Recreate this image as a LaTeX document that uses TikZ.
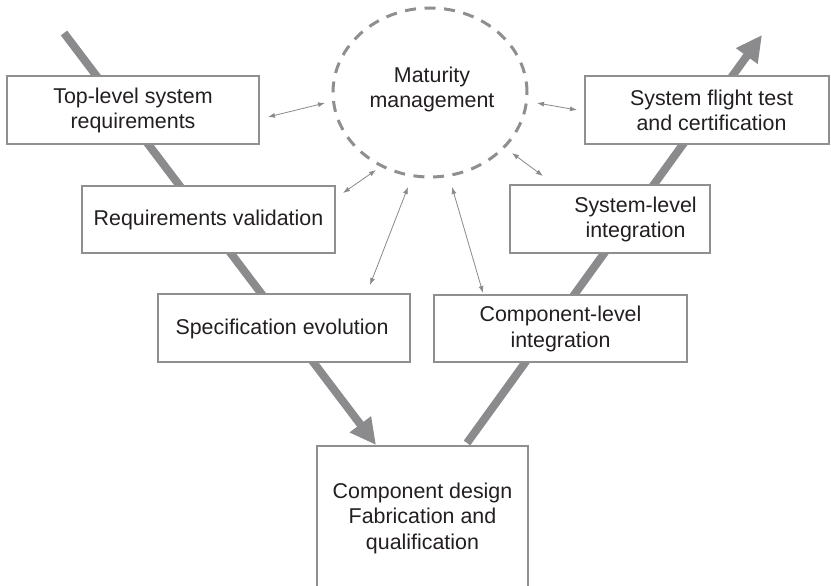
\documentclass[tikz,border=0pt]{standalone}
\usepackage{fontspec}
\setmainfont{Liberation Sans}
\usetikzlibrary{arrows.meta,shapes.geometric}
\definecolor{flowgray}{HTML}{8B8B8D}
\definecolor{boxgray}{HTML}{8F8F8F}
\definecolor{linkgray}{HTML}{8A8A8A}
\definecolor{inkdark}{HTML}{231F20}
\tikzset{
  stagebox/.style={draw=boxgray, line width=1.4pt, fill=white, inner sep=0pt},
  stagetext/.style={text=inkdark, align=center, inner sep=0pt,
    font=\fontsize{21.4}{25.5}\selectfont},
  flow/.style={draw=flowgray, line width=8pt,
    -{Triangle[length=26pt,width=25pt]}},
  link/.style={draw=linkgray, line width=0.8pt,
    {Latex[length=7pt,width=5pt]}-{Latex[length=7pt,width=5pt]}},
}
\begin{document}
\begin{tikzpicture}[x=1pt,y=-1pt]
\useasboundingbox (0,0) rectangle (831,586);
\clip (0,0) rectangle (831,586);
\fill[white] (0,0) rectangle (831,586);

% the two legs of the V
\coordinate (vstart) at (64,33);
\coordinate (vbottom) at (376,445);
\coordinate (vrise) at (467,443);
\coordinate (vend) at (762,35);
\draw[flow] (vstart) -- (vbottom);
\draw[flow] (vrise) -- (vend);

% stage boxes
\node[stagebox, minimum width=252pt, minimum height=68pt] (tl) at (133,110) {};
\node[stagetext] (tlt) at (133,110.5) {Top-level system\\requirements};

\node[stagebox, minimum width=253pt, minimum height=67pt] (rv) at (208.5,219.5) {};
\node[stagetext] (rvt) at (208.5,220) {Requirements validation};

\node[stagebox, minimum width=252pt, minimum height=68pt] (se) at (284,328) {};
\node[stagetext] (set) at (282,328.5) {Specification evolution};

\node[stagebox, minimum width=211pt, minimum height=160pt] (cd) at (422.5,526) {};
\node[stagetext] (cdt) at (422.5,518) {Component design\\Fabrication and\\qualification};

\node[stagebox, minimum width=253pt, minimum height=67pt] (ci) at (560.5,328.5) {};
\node[stagetext] (cit) at (560.5,329) {Component-level\\integration};

\node[stagebox, minimum width=200pt, minimum height=68pt] (si) at (610,219) {};
\node[stagetext] (sit) at (635.5,219.5) {System-level\\integration};

\node[stagebox, minimum width=244pt, minimum height=68pt] (ft) at (707,110) {};
\node[stagetext] (ftt) at (711.5,110.5) {System flight test\\and certification};

% maturity management hub
\node[draw=boxgray, line width=3pt, dash pattern=on 11pt off 8.6pt,
  ellipse, minimum width=194pt, minimum height=169pt, inner sep=0pt] (mm) at (430,92.5) {};
\node[stagetext] (mmt) at (432,89.5) {Maturity\\management};

% links between the hub and the stages
\coordinate (a1) at (268,117);  \coordinate (b1) at (325,103);
\coordinate (a2) at (537,103);  \coordinate (b2) at (577,110);
\coordinate (a3) at (343,193);  \coordinate (b3) at (376,170);
\coordinate (a4) at (370,285);  \coordinate (b4) at (408,187);
\coordinate (a5) at (483,293);  \coordinate (b5) at (452,187);
\coordinate (a6) at (512,153);  \coordinate (b6) at (543,176);
\draw[link] (a1) -- (b1);
\draw[link] (a2) -- (b2);
\draw[link] (a3) -- (b3);
\draw[link] (a4) -- (b4);
\draw[link] (a5) -- (b5);
\draw[link] (a6) -- (b6);
\end{tikzpicture}
\end{document}
